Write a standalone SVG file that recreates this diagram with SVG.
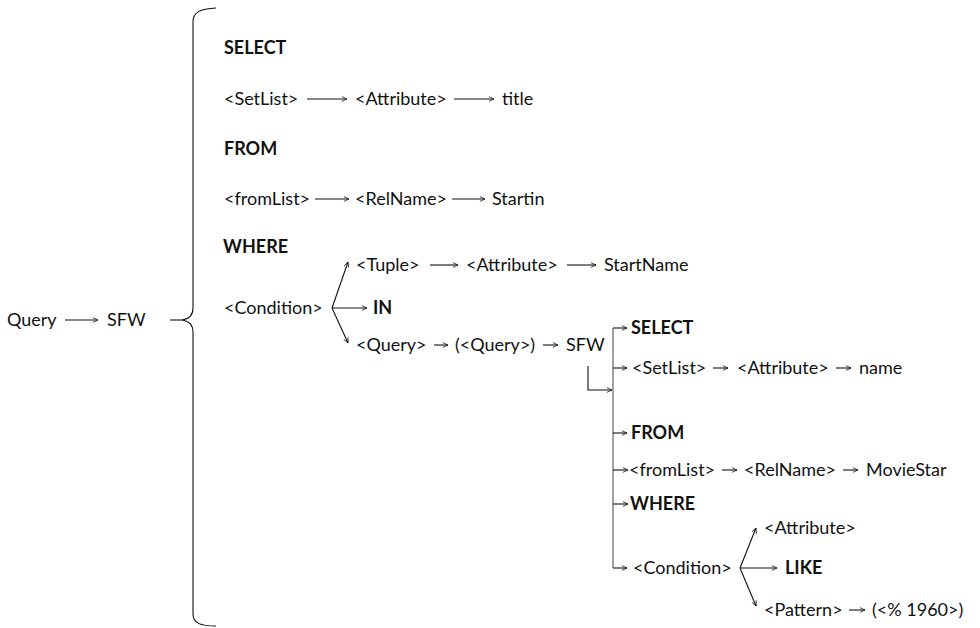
<svg xmlns="http://www.w3.org/2000/svg" width="980" height="628" viewBox="0 0 980 628">
<style>
.t{font-family:Lato,"Liberation Sans","DejaVu Sans",sans-serif;font-size:18px;fill:#111}
.b{font-weight:bold}
.c{fill:none;stroke:#111;stroke-width:1.1}
.g{fill:none;stroke:#8a8a8a;stroke-width:1.6}
</style>
<defs>
<marker id="ah" viewBox="0 0 10 10" refX="9.5" refY="5" markerWidth="6" markerHeight="7" orient="auto" markerUnits="userSpaceOnUse">
<path d="M1,1 L9.5,5 L1,9" fill="none" stroke="#111" stroke-width="1.3"/>
</marker>
</defs>
<rect width="980" height="628" fill="#fff"/>

<g id="brace">
<path class="c" d="M216,8 C200,9 193,12 193,22 L193,308 C193,315 189,319 182,320 C189,321 193,325 193,332 L193,614 C193,623 200,626 216,626"/>
</g>

<g id="n-query"><text class="t" x="7" y="326">Query</text></g>
<g id="n-sfw"><text class="t" x="107" y="326">SFW</text></g>

<g id="n-select"><text class="t b" x="224" y="54">SELECT</text></g>
<g id="n-setlist"><text class="t" x="224" y="105">&lt;SetList&gt;</text></g>
<g id="n-attr1"><text class="t" x="355" y="105">&lt;Attribute&gt;</text></g>
<g id="n-title"><text class="t" x="502" y="105">title</text></g>

<g id="n-from"><text class="t b" x="224" y="155">FROM</text></g>
<g id="n-fromlist"><text class="t" x="224" y="205">&lt;fromList&gt;</text></g>
<g id="n-relname"><text class="t" x="355" y="205">&lt;RelName&gt;</text></g>
<g id="n-startin"><text class="t" x="492" y="205">Startin</text></g>

<g id="n-where"><text class="t b" x="223" y="253">WHERE</text></g>
<g id="n-condition"><text class="t" x="224" y="314">&lt;Condition&gt;</text></g>
<g id="n-tuple"><text class="t" x="356" y="271">&lt;Tuple&gt;</text></g>
<g id="n-attr2"><text class="t" x="466" y="271">&lt;Attribute&gt;</text></g>
<g id="n-startname"><text class="t" x="604" y="271">StartName</text></g>
<g id="n-in"><text class="t b" x="373" y="314">IN</text></g>
<g id="n-subquery"><text class="t" x="356" y="351">&lt;Query&gt;</text></g>
<g id="n-paren"><text class="t" x="455" y="351">(&lt;Query&gt;)</text></g>
<g id="n-sfw2"><text class="t" x="566" y="351">SFW</text></g>

<g id="n-select2"><text class="t b" x="631" y="334">SELECT</text></g>
<g id="n-setlist2"><text class="t" x="632" y="374">&lt;SetList&gt;</text></g>
<g id="n-attr3"><text class="t" x="737" y="374">&lt;Attribute&gt;</text></g>
<g id="n-name"><text class="t" x="859" y="374">name</text></g>
<g id="n-from2"><text class="t b" x="631" y="439">FROM</text></g>
<g id="n-fromlist2"><text class="t" x="629" y="476">&lt;fromList&gt;</text></g>
<g id="n-relname2"><text class="t" x="744" y="476">&lt;RelName&gt;</text></g>
<g id="n-moviestar"><text class="t" x="866" y="476">MovieStar</text></g>
<g id="n-where2"><text class="t b" x="630" y="510">WHERE</text></g>
<g id="n-condition2"><text class="t" x="633" y="574">&lt;Condition&gt;</text></g>
<g id="n-attr4"><text class="t" x="764" y="534">&lt;Attribute&gt;</text></g>
<g id="n-like"><text class="t b" x="785" y="574">LIKE</text></g>
<g id="n-pattern"><text class="t" x="764" y="616">&lt;Pattern&gt;</text></g>
<g id="n-value"><text class="t" x="872" y="616">(&lt;% 1960&gt;)</text></g>

<g id="connectors">
<line class="c" x1="65" y1="320" x2="98" y2="320" marker-end="url(#ah)"/>
<line class="c" x1="170" y1="320" x2="182" y2="320"/>

<line class="c" x1="307" y1="99" x2="347" y2="99" marker-end="url(#ah)"/>
<line class="c" x1="454" y1="99" x2="494" y2="99" marker-end="url(#ah)"/>
<line class="c" x1="315" y1="199" x2="349" y2="199" marker-end="url(#ah)"/>
<line class="c" x1="452" y1="199" x2="485" y2="199" marker-end="url(#ah)"/>

<line class="c" x1="332" y1="308" x2="348" y2="262" marker-end="url(#ah)"/>
<line class="c" x1="332" y1="308" x2="367" y2="308" marker-end="url(#ah)"/>
<line class="c" x1="332" y1="308" x2="348" y2="343" marker-end="url(#ah)"/>
<line class="c" x1="430" y1="265" x2="458" y2="265" marker-end="url(#ah)"/>
<line class="c" x1="567" y1="265" x2="596" y2="265" marker-end="url(#ah)"/>
<line class="c" x1="434" y1="345" x2="448" y2="345" marker-end="url(#ah)"/>
<line class="c" x1="543" y1="345" x2="558" y2="345" marker-end="url(#ah)"/>

<polyline class="c" points="588,366 588,390 612,390" marker-end="url(#ah)"/>
<line class="g" x1="613" y1="328" x2="613" y2="568"/>
<line class="c" x1="613" y1="328" x2="627" y2="328" marker-end="url(#ah)"/>
<line class="c" x1="613" y1="368" x2="627" y2="368" marker-end="url(#ah)"/>
<line class="c" x1="613" y1="433" x2="627" y2="433" marker-end="url(#ah)"/>
<line class="c" x1="613" y1="470" x2="628" y2="470" marker-end="url(#ah)"/>
<line class="c" x1="613" y1="504" x2="628" y2="504" marker-end="url(#ah)"/>
<line class="c" x1="613" y1="568" x2="627" y2="568" marker-end="url(#ah)"/>
<line class="c" x1="713" y1="368" x2="728" y2="368" marker-end="url(#ah)"/>
<line class="c" x1="836" y1="368" x2="851" y2="368" marker-end="url(#ah)"/>
<line class="c" x1="722" y1="470" x2="737" y2="470" marker-end="url(#ah)"/>
<line class="c" x1="843" y1="470" x2="858" y2="470" marker-end="url(#ah)"/>

<line class="c" x1="740" y1="568" x2="756" y2="528" marker-end="url(#ah)"/>
<line class="c" x1="740" y1="568" x2="777" y2="568" marker-end="url(#ah)"/>
<line class="c" x1="740" y1="568" x2="756" y2="606" marker-end="url(#ah)"/>
<line class="c" x1="849" y1="610" x2="865" y2="610" marker-end="url(#ah)"/>
</g>
</svg>
